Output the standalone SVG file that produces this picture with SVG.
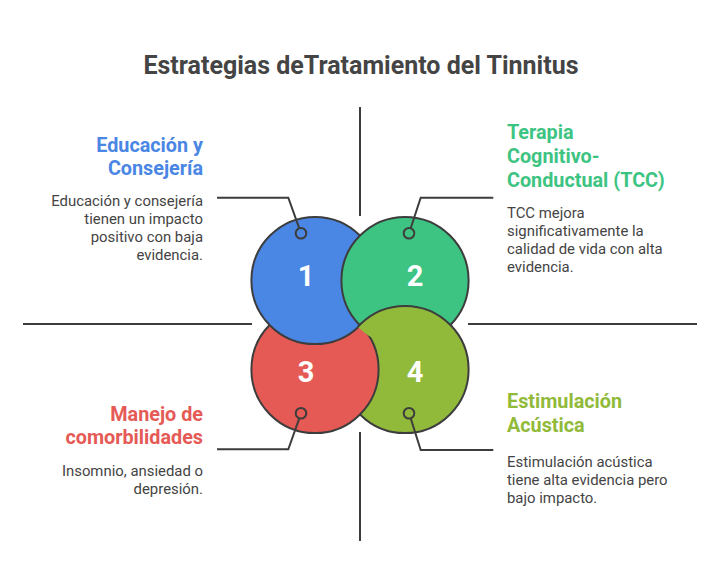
<svg xmlns="http://www.w3.org/2000/svg" width="721" height="588" viewBox="0 0 721 588">
<defs>
<style>
.title{font-family:Roboto,"Liberation Sans",sans-serif;font-weight:700;font-size:25px;fill:#444444}
.h{font-family:Roboto,"Liberation Sans",sans-serif;font-weight:700;font-size:19.8px}
.b{font-family:Roboto,"Liberation Sans",sans-serif;font-size:14.9px;fill:#444444}
.num{font-family:Roboto,"Liberation Sans",sans-serif;font-weight:700;font-size:29px;fill:#ffffff;text-anchor:middle}
.c{stroke:#3d3d3d;stroke-width:2}
.ln{stroke:#3d3d3d;stroke-width:2;fill:none}
.end{text-anchor:end}
</style>
<clipPath id="clip2"><circle cx="405" cy="280.5" r="66"/></clipPath>
</defs>
<rect width="721" height="588" fill="#ffffff"/>
<text class="title" x="361" y="74" text-anchor="middle">Estrategias deTratamiento del Tinnitus</text>
<g id="axes">
<line class="ln" x1="360" y1="107" x2="360" y2="216"/>
<line class="ln" x1="360" y1="432" x2="360" y2="541"/>
<line class="ln" x1="23" y1="324" x2="252" y2="324"/>
<line class="ln" x1="468" y1="324" x2="697" y2="324"/>
</g>
<g id="node4"><circle class="c" cx="405" cy="369.5" r="63.6" fill="#91BA3A"/></g>
<g id="node3"><circle class="c" cx="315" cy="369.5" r="63.6" fill="#E55A55"/></g>
<g id="node1"><circle class="c" cx="315" cy="280.5" r="63.6" fill="#4A86E4"/></g>
<g id="node2"><circle class="c" cx="405" cy="280.5" r="63.6" fill="#3DC482"/></g>
<g id="node4-top" clip-path="url(#clip2)"><circle class="c" cx="405" cy="369.5" r="63.6" fill="#91BA3A"/></g>
<g id="numbers">
<text class="num" x="306" y="286">1</text>
<text class="num" x="415" y="286">2</text>
<text class="num" x="306" y="382">3</text>
<text class="num" x="415" y="382">4</text>
</g>
<g id="connectors">
<polyline class="ln" points="217,197.7 288.3,197.7 299.3,228.3"/>
<circle class="ln" cx="301" cy="233.3" r="5.3"/>
<polyline class="ln" points="493.3,197.7 420.7,197.7 410.7,228.3"/>
<circle class="ln" cx="409" cy="233.3" r="5.3"/>
<polyline class="ln" points="217,449.3 288.3,449.3 299.3,418.3"/>
<circle class="ln" cx="301" cy="413.3" r="5.3"/>
<polyline class="ln" points="493.3,450 420.7,450 410.7,418.3"/>
<circle class="ln" cx="409" cy="413.3" r="5.3"/>
</g>
<g id="label1">
<text class="h end" fill="#4A86E4" x="203" y="151.5">Educación y</text>
<text class="h end" fill="#4A86E4" x="203" y="175">Consejería</text>
<text class="b end" x="203" y="206">Educación y consejería</text>
<text class="b end" x="203" y="224">tienen un impacto</text>
<text class="b end" x="203" y="242">positivo con baja</text>
<text class="b end" x="203" y="260">evidencia.</text>
</g>
<g id="label2">
<text class="h" fill="#3DC482" x="507" y="139.3">Terapia</text>
<text class="h" fill="#3DC482" x="507" y="163">Cognitivo-</text>
<text class="h" fill="#3DC482" x="507" y="186.7">Conductual (TCC)</text>
<text class="b" x="507" y="217.5">TCC mejora</text>
<text class="b" x="507" y="235.5">significativamente la</text>
<text class="b" x="507" y="253.5">calidad de vida con alta</text>
<text class="b" x="507" y="271.5">evidencia.</text>
</g>
<g id="label3">
<text class="h end" fill="#E55A55" x="203" y="420.7">Manejo de</text>
<text class="h end" fill="#E55A55" x="203" y="444">comorbilidades</text>
<text class="b end" x="203" y="476">Insomnio, ansiedad o</text>
<text class="b end" x="203" y="494">depresión.</text>
</g>
<g id="label4">
<text class="h" fill="#91BA3A" x="507" y="408.3">Estimulación</text>
<text class="h" fill="#91BA3A" x="507" y="432">Acústica</text>
<text class="b" x="507" y="467.3">Estimulación acústica</text>
<text class="b" x="507" y="485.3">tiene alta evidencia pero</text>
<text class="b" x="507" y="503">bajo impacto.</text>
</g>
</svg>
